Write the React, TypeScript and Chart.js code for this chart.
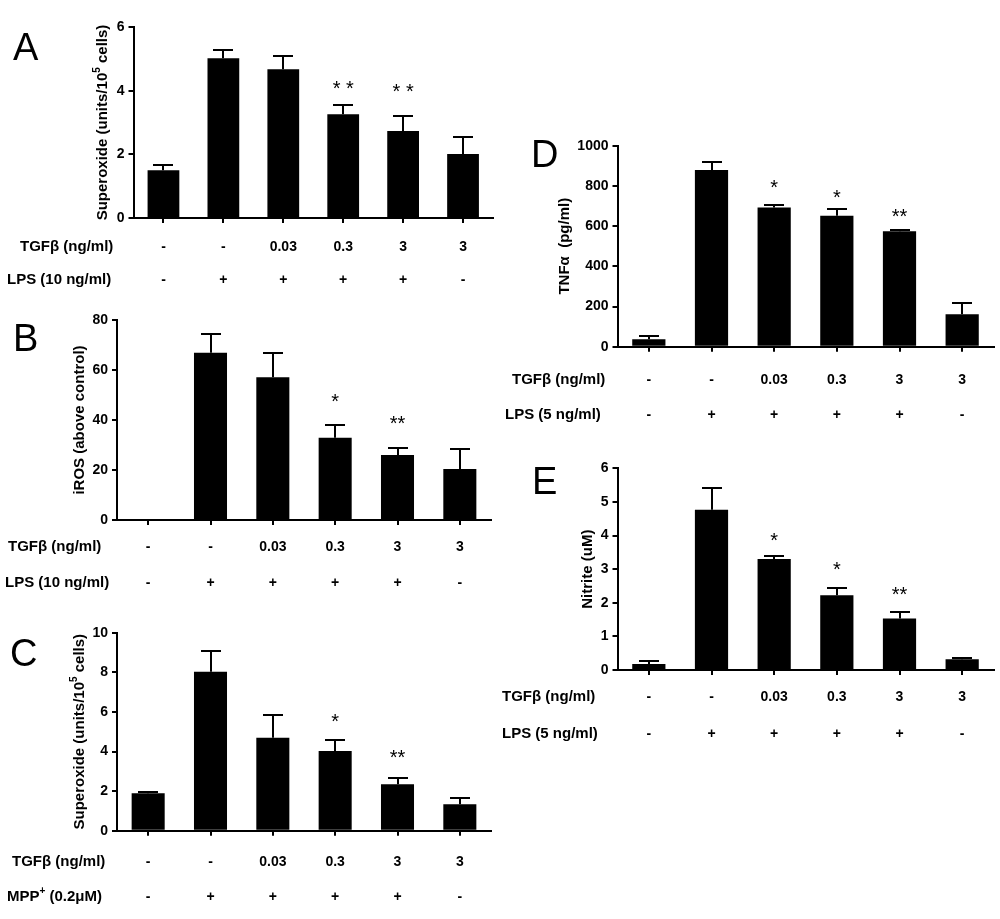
import React, { useEffect, useRef } from "react";
import { Chart, registerables } from "chart.js";
Chart.register(...registerables);

const FONT = '"Liberation Sans", Arial, Helvetica, sans-serif';

const categories = ["c1", "c2", "c3", "c4", "c5", "c6"];
const tgfRow = ["-", "-", "0.03", "0.3", "3", "3"];
const stimRow = ["-", "+", "+", "+", "+", "-"];

// Panel A
const valuesA = [1.5, 5.02, 4.67, 3.26, 2.73, 2.01];
const errA = [0.18, 0.25, 0.41, 0.3, 0.46, 0.53];
const starsA = ["", "", "", "* *", "* *", ""];
const starYA = [0, 0, 0, 4.2, 4.1, 0];

// Panel B
const valuesB = [0, 66.9, 57.1, 32.9, 26.0, 20.4];
const errB = [0, 7.4, 9.6, 5.1, 2.9, 8.1];
const starsB = ["", "", "", "*", "**", ""];
const starYB = [0, 0, 0, 49.3, 40.4, 0];

// Panel C
const valuesC = [1.89, 8.03, 4.7, 4.02, 2.34, 1.33];
const errC = [0.07, 1.04, 1.14, 0.56, 0.31, 0.31];
const starsC = ["", "", "", "*", "**", ""];
const starYC = [0, 0, 0, 5.76, 3.9, 0];

// Panel D
const valuesD = [37, 879, 693, 651, 574, 162];
const errD = [18, 41, 10, 35, 6, 57];
const starsD = ["", "", "*", "*", "**", ""];
const starYD = [0, 0, 815, 766, 671, 0];

// Panel E
const valuesE = [0.18, 4.77, 3.3, 2.22, 1.53, 0.32];
const errE = [0.09, 0.63, 0.1, 0.23, 0.19, 0.04];
const starsE = ["", "", "*", "*", "**", ""];
const starYE = [0, 0, 4.0, 3.13, 2.37, 0];

type Row = { label: string; x: number; y: number; cells: string[] };
type Panel = {
  letter: string;
  letterX: number;
  letterY: number;
  box: { x: number; y: number; w: number; h: number };
  area: { l: number; r: number; t: number; b: number };
  max: number;
  step: number;
  values: number[];
  errs: number[];
  stars: string[];
  starY: number[];
  title: string;
  titleX: number;
  rows: Row[];
};

const panels: Panel[] = [
  {
    letter: "A", letterX: 13, letterY: 60,
    box: { x: 0, y: 0, w: 500, h: 300 },
    area: { l: 133.5, r: 493, t: 27, b: 218 },
    max: 6, step: 2, values: valuesA, errs: errA, stars: starsA, starY: starYA,
    title: "Superoxide (units/10^{5} cells)", titleX: 103,
    rows: [
      { label: "TGFβ (ng/ml)", x: 20, y: 247, cells: tgfRow },
      { label: "LPS (10 ng/ml)", x: 7, y: 280, cells: stimRow },
    ],
  },
  {
    letter: "B", letterX: 13, letterY: 351,
    box: { x: 0, y: 300, w: 500, h: 305 },
    area: { l: 117, r: 491, t: 320, b: 520 },
    max: 80, step: 20, values: valuesB, errs: errB, stars: starsB, starY: starYB,
    title: "iROS (above control)", titleX: 80,
    rows: [
      { label: "TGFβ (ng/ml)", x: 8, y: 547, cells: tgfRow },
      { label: "LPS (10 ng/ml)", x: 5, y: 583, cells: stimRow },
    ],
  },
  {
    letter: "C", letterX: 10, letterY: 666,
    box: { x: 0, y: 605, w: 500, h: 314 },
    area: { l: 117, r: 491, t: 632.7, b: 830.7 },
    max: 10, step: 2, values: valuesC, errs: errC, stars: starsC, starY: starYC,
    title: "Superoxide (units/10^{5} cells)", titleX: 80,
    rows: [
      { label: "TGFβ (ng/ml)", x: 12, y: 862, cells: tgfRow },
      { label: "MPP^{+} (0.2μM)", x: 7, y: 897, cells: stimRow },
    ],
  },
  {
    letter: "D", letterX: 531, letterY: 167,
    box: { x: 500, y: 100, w: 500, h: 330 },
    area: { l: 617.5, r: 993.5, t: 145.7, b: 346.7 },
    max: 1000, step: 200, values: valuesD, errs: errD, stars: starsD, starY: starYD,
    title: "TNFα  (pg/ml)", titleX: 565,
    rows: [
      { label: "TGFβ (ng/ml)", x: 512, y: 380, cells: tgfRow },
      { label: "LPS (5 ng/ml)", x: 505, y: 415, cells: stimRow },
    ],
  },
  {
    letter: "E", letterX: 532, letterY: 494,
    box: { x: 500, y: 430, w: 500, h: 320 },
    area: { l: 617.5, r: 993.5, t: 468.3, b: 670 },
    max: 6, step: 1, values: valuesE, errs: errE, stars: starsE, starY: starYE,
    title: "Nitrite (uM)", titleX: 588,
    rows: [
      { label: "TGFβ (ng/ml)", x: 502, y: 697, cells: tgfRow },
      { label: "LPS (5 ng/ml)", x: 502, y: 734, cells: stimRow },
    ],
  },
];

function drawRich(ctx: CanvasRenderingContext2D, text: string, x: number, y: number, size: number, align: "left" | "center") {
  const parts = text.split(/(\^\{[^}]*\})/).filter((s) => s.length > 0);
  const segs = parts.map((s) => {
    const m = s.match(/^\^\{([^}]*)\}$/);
    return m ? { t: m[1], sup: true } : { t: s, sup: false };
  });
  const supSize = Math.round(size * 0.68);
  let total = 0;
  const widths = segs.map((s) => {
    ctx.font = `bold ${s.sup ? supSize : size}px ${FONT}`;
    const w = ctx.measureText(s.t).width;
    total += w;
    return w;
  });
  let cx = align === "center" ? x - total / 2 : x;
  ctx.textAlign = "left";
  ctx.textBaseline = "middle";
  segs.forEach((s, i) => {
    ctx.font = `bold ${s.sup ? supSize : size}px ${FONT}`;
    ctx.fillText(s.t, cx, s.sup ? y - size * 0.38 : y);
    cx += widths[i];
  });
}

function makePlugin(p: Panel) {
  return {
    id: "panelDecor" + p.letter,
    afterDatasetsDraw(chart: any) {
      const ctx: CanvasRenderingContext2D = chart.ctx;
      const xs = chart.scales.x;
      const ys = chart.scales.y;
      const ox = p.box.x;
      const oy = p.box.y;
      ctx.save();
      ctx.fillStyle = "#000";
      ctx.strokeStyle = "#000";
      ctx.lineWidth = 2;
      // error bars
      p.values.forEach((v, i) => {
        const e = p.errs[i];
        if (!(e > 0)) return;
        const x = Math.round(xs.getPixelForValue(i));
        const y0 = ys.getPixelForValue(v);
        const y1 = Math.round(ys.getPixelForValue(v + e));
        ctx.beginPath();
        ctx.moveTo(x, y0);
        ctx.lineTo(x, y1);
        ctx.moveTo(x - 10, y1);
        ctx.lineTo(x + 10, y1);
        ctx.stroke();
      });
      // significance stars
      ctx.font = `20px ${FONT}`;
      ctx.textAlign = "center";
      ctx.textBaseline = "alphabetic";
      p.stars.forEach((s, i) => {
        if (!s) return;
        const x = xs.getPixelForValue(i);
        const y = ys.getPixelForValue(p.starY[i]);
        ctx.fillText(s, x, y + 11);
      });
      // y-axis title
      const ca = chart.chartArea;
      ctx.save();
      ctx.translate(p.titleX - ox, (ca.top + ca.bottom) / 2);
      ctx.rotate(-Math.PI / 2);
      drawRich(ctx, p.title, 0, 0, 15, "center");
      ctx.restore();
      // panel letter
      ctx.font = `38px ${FONT}`;
      ctx.textAlign = "left";
      ctx.textBaseline = "alphabetic";
      ctx.fillText(p.letter, p.letterX - ox, p.letterY - oy);
      // treatment rows
      p.rows.forEach((r) => {
        drawRich(ctx, r.label, r.x - ox, r.y - oy, 15, "left");
        ctx.font = `bold 14px ${FONT}`;
        ctx.textAlign = "center";
        ctx.textBaseline = "middle";
        r.cells.forEach((c, i) => {
          ctx.fillText(c, xs.getPixelForValue(i), r.y - oy);
        });
      });
      ctx.restore();
    },
  };
}

function PanelChart({ p }: { p: Panel }) {
  const ref = useRef<HTMLCanvasElement>(null);
  useEffect(() => {
    const cv = ref.current;
    if (!cv) return;
    const yW = 60;
    const xH = 6;
    const chart = new Chart(cv, {
      type: "bar",
      data: {
        labels: categories,
        datasets: [
          {
            data: p.values,
            backgroundColor: "#000",
            borderWidth: 0,
            barPercentage: 0.53,
            categoryPercentage: 1,
          },
        ],
      },
      options: {
        responsive: false,
        animation: false,
        events: [],
        layout: {
          padding: {
            left: p.area.l - p.box.x - yW,
            right: p.box.x + p.box.w - p.area.r,
            top: p.area.t - p.box.y,
            bottom: p.box.y + p.box.h - p.area.b - xH,
          },
        },
        plugins: {
          legend: { display: false },
          tooltip: { enabled: false },
          title: { display: false },
        },
        scales: {
          x: {
            type: "category",
            offset: true,
            grid: {
              offset: false,
              drawOnChartArea: false,
              drawTicks: true,
              tickLength: 5,
              lineWidth: 2,
              color: "#000",
            },
            border: { display: true, color: "#000", width: 2 },
            ticks: { display: false },
            afterFit: (s: any) => {
              s.height = xH;
            },
          },
          y: {
            min: 0,
            max: p.max,
            ticks: {
              stepSize: p.step,
              font: { family: FONT, size: 14, weight: "bold" },
              color: "#000",
              padding: 4,
              callback: (v: any) => String(v),
            },
            grid: {
              drawOnChartArea: false,
              drawTicks: true,
              tickLength: 5,
              lineWidth: 2,
              color: "#000",
            },
            border: { display: true, color: "#000", width: 2 },
            afterFit: (s: any) => {
              s.width = yW;
            },
          },
        },
      } as any,
      plugins: [makePlugin(p)],
    });
    return () => chart.destroy();
  }, [p]);
  return (
    <canvas
      ref={ref}
      width={p.box.w}
      height={p.box.h}
      style={{ position: "absolute", left: p.box.x, top: p.box.y, width: p.box.w, height: p.box.h }}
    />
  );
}

export default function App() {
  return (
    <div style={{ position: "absolute", left: 0, top: 0, width: 1000, height: 919, background: "#fff", overflow: "hidden" }}>
      {panels.map((p) => (
        <PanelChart key={p.letter} p={p} />
      ))}
    </div>
  );
}
